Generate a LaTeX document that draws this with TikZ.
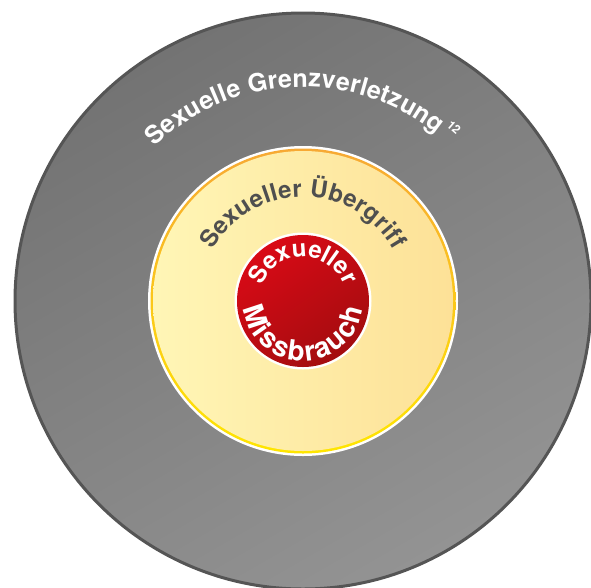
\documentclass[tikz,border=0pt]{standalone}
\usepackage{fontspec}
\setmainfont{TeX Gyre Heros}
\usetikzlibrary{decorations.text}

\definecolor{greyrim}{HTML}{555555}
\definecolor{greydark}{HTML}{737373}
\definecolor{greylight}{HTML}{939393}
\definecolor{goldtop}{HTML}{F7A934}
\definecolor{goldbot}{HTML}{FFE600}
\definecolor{creamleft}{HTML}{FFF6B6}
\definecolor{creamright}{HTML}{FDE197}
\definecolor{redlight}{HTML}{D90A16}
\definecolor{reddark}{HTML}{A30D0F}
\definecolor{inktext}{HTML}{4F4F4F}

\begin{document}
\begin{tikzpicture}[
            x = 1pt, y = 1pt, % one unit = one pixel of the sketch
            arcword/.style = {decorate, decoration = {
                text effects along path, text = {#1}, text align = center}},
            outerletters/.style = {font = \fontsize{25}{27}\selectfont\bfseries},
            midletters/.style = {font = \fontsize{24}{26}\selectfont\bfseries},
            redletters/.style = {font = \fontsize{#1}{30}\selectfont\bfseries}
        ]

        \useasboundingbox (0,0) rectangle (591,-587);
        \coordinate (c) at (303,-301); % common centre

        % outer ring
        \shade[top color = greydark, bottom color = greylight, shading angle = 30]
            (c) circle (288);
        \draw[greyrim, line width = 3pt] (c) circle (288);

        % middle ring
        \fill[white] (c) circle (155);
        \shade[top color = goldtop, bottom color = goldbot] (c) circle (152.5);
        \shade[left color = creamleft, right color = creamright] (c) circle (150);

        % core
        \fill[white] (c) circle (68.5);
        \shade[top color = redlight, bottom color = reddark, shading angle = 35]
            (c) circle (66);

        % labels
        \path[arcword = {Sexuelle Grenzverletzung},
              decoration = {text align = left, text effects/.cd,
                characters = {text along path, outerletters, text = white, inner xsep = 0pt},
                character widths = {outerletters, inner xsep = 0.1pt}}]
            ([shift = {(134:214)}]c) arc[start angle = 134, end angle = 0, radius = 214];
        \node[white, rotate = -41, font = \fontsize{12}{13}\selectfont\bfseries] (sup)
            at ([shift = {(49:230)}]c) {12};

        \path[arcword = {Sexueller Übergriff},
              decoration = {text effects/.cd,
                characters = {text along path, midletters, text = inktext, inner xsep = 0pt},
                character widths = {midletters, inner xsep = 0.15pt}}]
            ([shift = {(180:104)}]c) arc[start angle = 180, end angle = 0, radius = 104];

        \path[arcword = {Sexueller},
              decoration = {text effects/.cd,
                characters = {text along path, redletters = 24, text = white, inner xsep = 0pt},
                character widths = {redletters = 24, inner xsep = 0pt}}]
            ([shift = {(180:44)}]c) arc[start angle = 180, end angle = 0, radius = 44];
        \path[arcword = {Missbrauch},
              decoration = {text effects/.cd,
                characters = {text along path, redletters = 28, text = white, inner xsep = 0pt},
                character widths = {redletters = 28, inner xsep = 1pt}}]
            ([shift = {(180:60)}]c) arc[start angle = 180, end angle = 360, radius = 60];

    \end{tikzpicture}
\end{document}
